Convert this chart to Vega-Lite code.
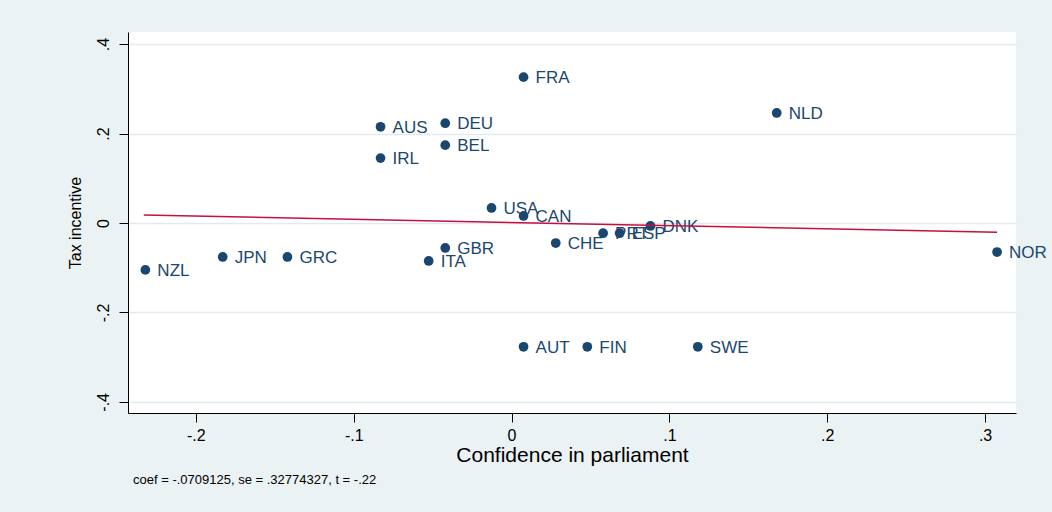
{
  "$schema": "https://vega.github.io/schema/vega-lite/v6.json",
  "width": 888,
  "height": 381,
  "autosize": {"type": "none"},
  "padding": {"left": 128, "top": 32, "right": 36, "bottom": 99},
  "background": "#eaf2f3",
  "config": {
    "font": "Liberation Sans",
    "view": {"fill": "white", "stroke": null},
    "axis": {
      "domainColor": "#000000",
      "tickColor": "#000000",
      "labelColor": "#000000",
      "titleColor": "#000000",
      "labelFont": "Liberation Sans",
      "titleFont": "Liberation Sans",
      "titleFontWeight": "normal",
      "labelFontSize": 16,
      "titleFontSize": 16,
      "tickSize": 9,
      "domainWidth": 1,
      "tickWidth": 1
    }
  },
  "title": {
    "text": "coef = -.0709125, se = .32774327, t = -.22",
    "orient": "bottom",
    "anchor": "start",
    "frame": "group",
    "fontSize": 13,
    "fontWeight": "normal",
    "font": "Liberation Sans",
    "color": "#000000",
    "offset": 9,
    "dx": 5
  },
  "data": {
    "values": [
      {"country": "FRA", "conf": 0.0076, "tax": 0.326},
      {"country": "NLD", "conf": 0.168, "tax": 0.246},
      {"country": "AUS", "conf": -0.083, "tax": 0.215},
      {"country": "DEU", "conf": -0.042, "tax": 0.223},
      {"country": "BEL", "conf": -0.042, "tax": 0.174},
      {"country": "IRL", "conf": -0.083, "tax": 0.145},
      {"country": "USA", "conf": -0.0127, "tax": 0.0335},
      {"country": "CAN", "conf": 0.0076, "tax": 0.0156},
      {"country": "DNK", "conf": 0.088, "tax": -0.0067},
      {"country": "PRT", "conf": 0.058, "tax": -0.023},
      {"country": "ESP", "conf": 0.0685, "tax": -0.023},
      {"country": "CHE", "conf": 0.028, "tax": -0.045},
      {"country": "GBR", "conf": -0.042, "tax": -0.056},
      {"country": "ITA", "conf": -0.0525, "tax": -0.085},
      {"country": "NOR", "conf": 0.3076, "tax": -0.065},
      {"country": "JPN", "conf": -0.183, "tax": -0.076},
      {"country": "GRC", "conf": -0.142, "tax": -0.076},
      {"country": "NZL", "conf": -0.232, "tax": -0.105},
      {"country": "AUT", "conf": 0.0076, "tax": -0.277},
      {"country": "FIN", "conf": 0.048, "tax": -0.277},
      {"country": "SWE", "conf": 0.118, "tax": -0.277}
    ]
  },
  "layer": [
    {
      "mark": {"type": "point", "filled": true, "opacity": 1, "size": 95, "color": "#1a476f"},
      "encoding": {
        "x": {
          "field": "conf", "type": "quantitative",
          "scale": {"domain": [-0.243, 0.3196], "nice": false, "zero": false},
          "axis": {
            "title": "Confidence in parliament",
            "titleFontSize": 21,
            "values": [-0.2, -0.1, 0, 0.1, 0.2, 0.3],
            "labelExpr": "datum.value == 0 ? '0' : (datum.value < 0 ? '-' : '') + replace(format(abs(datum.value), '.1f'), '0.', '.')",
            "grid": false,
            "labelPadding": 5,
            "titlePadding": 1
          }
        },
        "y": {
          "field": "tax", "type": "quantitative",
          "scale": {"domain": [-0.425, 0.427], "nice": false, "zero": false},
          "axis": {
            "title": "Tax incentive",
            "values": [-0.4, -0.2, 0, 0.2, 0.4],
            "labelExpr": "datum.value == 0 ? '0' : (datum.value < 0 ? '-' : '') + replace(format(abs(datum.value), '.1f'), '0.', '.')",
            "labelAngle": -90,
            "labelAlign": "center",
            "labelBaseline": "bottom",
            "labelPadding": 8,
            "grid": true,
            "gridColor": "#e1eaee",
            "gridWidth": 1.5,
            "titlePadding": 12
          }
        }
      }
    },
    {
      "mark": {"type": "text", "align": "left", "baseline": "middle", "dx": 12, "dy": 1, "fontSize": 17, "color": "#1a476f", "font": "Liberation Sans"},
      "encoding": {
        "x": {"field": "conf", "type": "quantitative"},
        "y": {"field": "tax", "type": "quantitative"},
        "text": {"field": "country"}
      }
    },
    {
      "data": {
        "values": [
          {"conf": -0.233, "tax": 0.0175},
          {"conf": 0.3076, "tax": -0.0208}
        ]
      },
      "mark": {"type": "line", "color": "#c8103e", "strokeWidth": 1.5},
      "encoding": {
        "x": {"field": "conf", "type": "quantitative"},
        "y": {"field": "tax", "type": "quantitative"}
      }
    }
  ]
}
